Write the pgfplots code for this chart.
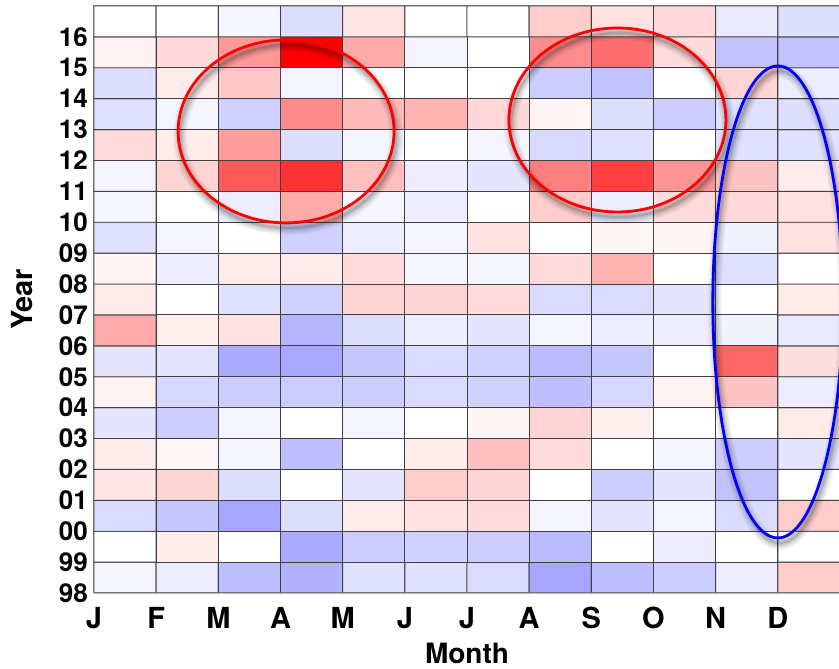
\documentclass[border=0pt]{standalone}
\usepackage{fontspec}
\setmainfont{TeX Gyre Heros}
\usepackage{pgfplots}
\pgfplotsset{compat=1.18}

\begin{document}
\begin{tikzpicture}
\useasboundingbox (0,0) rectangle (839pt,669pt);
\begin{axis}[
  at={(94pt,76pt)}, anchor=south west,
  scale only axis, width=746pt, height=587pt,
  xmin=0, xmax=12, ymin=0, ymax=19,
  clip=false, axis on top,
  colormap={bwr}{rgb255=(0,0,255) rgb255=(255,255,255) rgb255=(255,0,0)},
  point meta min=-1, point meta max=1,
  xtick={0,...,11},
  xticklabels={J,F,M,A,M,J,J,A,S,O,N,D},
  ytick={0,...,18},
  yticklabels={98,99,00,01,02,03,04,05,06,07,08,09,10,11,12,13,14,15,16},
  major tick length=0pt,
  xticklabel style={font=\bfseries\fontsize{29}{29}\selectfont, inner sep=0pt, yshift=-14pt},
  yticklabel style={font=\bfseries\fontsize{26}{26}\selectfont, inner ysep=0pt, inner xsep=6pt},
  xlabel={Month}, ylabel={Year},
  xlabel style={font=\bfseries\fontsize{28}{28}\selectfont, at={(axis description cs:0.5,-0.1025)}, anchor=center},
  ylabel style={font=\bfseries\fontsize{29}{29}\selectfont, at={(axis description cs:-0.0965,0.5)}, anchor=center},
  axis line style={black!55, line width=1pt},
]
% monthly anomalies, one line per year (98 at the bottom, 16 at the top)
\addplot[matrix plot*, mesh/cols=12, point meta=explicit, draw=black!75, line width=0.9pt] coordinates {
(0.5,0.5)[-0.04] (1.5,0.5)[-0.07] (2.5,0.5)[-0.25] (3.5,0.5)[-0.30] (4.5,0.5)[-0.12] (5.5,0.5)[-0.12] (6.5,0.5)[-0.14] (7.5,0.5)[-0.35] (8.5,0.5)[-0.25] (9.5,0.5)[-0.20] (10.5,0.5)[-0.07] (11.5,0.5)[0.20]
(0.5,1.5)[0] (1.5,1.5)[0.07] (2.5,1.5)[0] (3.5,1.5)[-0.33] (4.5,1.5)[-0.20] (5.5,1.5)[-0.18] (6.5,1.5)[-0.20] (7.5,1.5)[-0.27] (8.5,1.5)[0] (9.5,1.5)[-0.07] (10.5,1.5)[0] (11.5,1.5)[0]
(0.5,2.5)[-0.14] (1.5,2.5)[-0.22] (2.5,2.5)[-0.35] (3.5,2.5)[-0.13] (4.5,2.5)[0.08] (5.5,2.5)[0.11] (6.5,2.5)[0.14] (7.5,2.5)[-0.04] (8.5,2.5)[-0.10] (9.5,2.5)[-0.04] (10.5,2.5)[-0.14] (11.5,2.5)[0.20]
(0.5,3.5)[0.10] (1.5,3.5)[0.17] (2.5,3.5)[-0.13] (3.5,3.5)[0] (4.5,3.5)[-0.10] (5.5,3.5)[0.20] (6.5,3.5)[0.17] (7.5,3.5)[0] (8.5,3.5)[-0.20] (9.5,3.5)[-0.10] (10.5,3.5)[-0.24] (11.5,3.5)[0]
(0.5,4.5)[0.07] (1.5,4.5)[0.03] (2.5,4.5)[-0.04] (3.5,4.5)[-0.25] (4.5,4.5)[0] (5.5,4.5)[0.08] (6.5,4.5)[0.25] (7.5,4.5)[0.14] (8.5,4.5)[0] (9.5,4.5)[-0.04] (10.5,4.5)[-0.20] (11.5,4.5)[-0.10]
(0.5,5.5)[-0.10] (1.5,5.5)[-0.20] (2.5,5.5)[-0.04] (3.5,5.5)[0] (4.5,5.5)[-0.04] (5.5,5.5)[0] (6.5,5.5)[0.04] (7.5,5.5)[0.17] (8.5,5.5)[0.06] (9.5,5.5)[0] (10.5,5.5)[0] (11.5,5.5)[0.08]
(0.5,6.5)[0.05] (1.5,6.5)[-0.16] (2.5,6.5)[-0.20] (3.5,6.5)[-0.20] (4.5,6.5)[-0.20] (5.5,6.5)[-0.14] (6.5,6.5)[-0.18] (7.5,6.5)[-0.25] (8.5,6.5)[-0.16] (9.5,6.5)[0.05] (10.5,6.5)[0.24] (11.5,6.5)[-0.07]
(0.5,7.5)[-0.10] (1.5,7.5)[-0.10] (2.5,7.5)[-0.33] (3.5,7.5)[-0.34] (4.5,7.5)[-0.22] (5.5,7.5)[-0.14] (6.5,7.5)[-0.18] (7.5,7.5)[-0.27] (8.5,7.5)[-0.22] (9.5,7.5)[0] (10.5,7.5)[0.60] (11.5,7.5)[0.13]
(0.5,8.5)[0.33] (1.5,8.5)[0.06] (2.5,8.5)[0.12] (3.5,8.5)[-0.29] (4.5,8.5)[-0.13] (5.5,8.5)[-0.07] (6.5,8.5)[-0.10] (7.5,8.5)[-0.04] (8.5,8.5)[-0.07] (9.5,8.5)[-0.07] (10.5,8.5)[-0.05] (11.5,8.5)[-0.08]
(0.5,9.5)[0.08] (1.5,9.5)[0] (2.5,9.5)[-0.12] (3.5,9.5)[-0.18] (4.5,9.5)[0.17] (5.5,9.5)[0.17] (6.5,9.5)[0.14] (7.5,9.5)[-0.14] (8.5,9.5)[-0.14] (9.5,9.5)[-0.10] (10.5,9.5)[0] (11.5,9.5)[0.08]
(0.5,10.5)[0.04] (1.5,10.5)[-0.07] (2.5,10.5)[0.08] (3.5,10.5)[0.08] (4.5,10.5)[0.14] (5.5,10.5)[-0.04] (6.5,10.5)[-0.04] (7.5,10.5)[0.14] (8.5,10.5)[0.30] (9.5,10.5)[0] (10.5,10.5)[-0.12] (11.5,10.5)[0]
(0.5,11.5)[-0.12] (1.5,11.5)[-0.04] (2.5,11.5)[0] (3.5,11.5)[-0.18] (4.5,11.5)[-0.07] (5.5,11.5)[-0.04] (6.5,11.5)[0.12] (7.5,11.5)[0] (8.5,11.5)[0.04] (9.5,11.5)[0.04] (10.5,11.5)[-0.05] (11.5,11.5)[0.12]
(0.5,12.5)[-0.04] (1.5,12.5)[0] (2.5,12.5)[-0.07] (3.5,12.5)[0.33] (4.5,12.5)[-0.04] (5.5,12.5)[-0.07] (6.5,12.5)[0] (7.5,12.5)[0.20] (8.5,12.5)[-0.07] (9.5,12.5)[0.14] (10.5,12.5)[0.15] (11.5,12.5)[0.12]
(0.5,13.5)[-0.04] (1.5,13.5)[0.17] (2.5,13.5)[0.65] (3.5,13.5)[0.80] (4.5,13.5)[0.25] (5.5,13.5)[-0.07] (6.5,13.5)[-0.10] (7.5,13.5)[0.50] (8.5,13.5)[0.75] (9.5,13.5)[0.42] (10.5,13.5)[0.24] (11.5,13.5)[0.08]
(0.5,14.5)[0.14] (1.5,14.5)[0.07] (2.5,14.5)[0.39] (3.5,14.5)[-0.13] (4.5,14.5)[-0.04] (5.5,14.5)[0] (6.5,14.5)[-0.04] (7.5,14.5)[-0.15] (8.5,14.5)[-0.12] (9.5,14.5)[0] (10.5,14.5)[-0.12] (11.5,14.5)[-0.12]
(0.5,15.5)[-0.12] (1.5,15.5)[-0.04] (2.5,15.5)[-0.18] (3.5,15.5)[0.45] (4.5,15.5)[0.27] (5.5,15.5)[0.30] (6.5,15.5)[0.15] (7.5,15.5)[0.04] (8.5,15.5)[-0.13] (9.5,15.5)[-0.20] (10.5,15.5)[-0.12] (11.5,15.5)[-0.13]
(0.5,16.5)[-0.13] (1.5,16.5)[0.08] (2.5,16.5)[0.22] (3.5,16.5)[-0.04] (4.5,16.5)[0] (5.5,16.5)[0] (6.5,16.5)[0] (7.5,16.5)[-0.20] (8.5,16.5)[-0.24] (9.5,16.5)[0] (10.5,16.5)[0.17] (11.5,16.5)[-0.07]
(0.5,17.5)[0.05] (1.5,17.5)[0.15] (2.5,17.5)[0.40] (3.5,17.5)[1.00] (4.5,17.5)[0.33] (5.5,17.5)[-0.04] (6.5,17.5)[0] (7.5,17.5)[0.45] (8.5,17.5)[0.57] (9.5,17.5)[0.14] (10.5,17.5)[-0.24] (11.5,17.5)[-0.24]
(0.5,18.5)[0] (1.5,18.5)[0] (2.5,18.5)[-0.04] (3.5,18.5)[-0.13] (4.5,18.5)[0.10] (5.5,18.5)[0] (6.5,18.5)[0] (7.5,18.5)[0.20] (8.5,18.5)[0.12] (9.5,18.5)[0.15] (10.5,18.5)[-0.08] (11.5,18.5)[-0.13]
};
% centres of the highlighted groups
\coordinate (springA) at (axis cs:3.09,14.94);
\coordinate (autumnA) at (axis cs:8.42,15.31);
\coordinate (decB) at (axis cs:11.0,9.42);
\end{axis}

% highlight rings with a soft drop shadow
\foreach \c/\rx/\ry/\col in {springA/108/91.5/red, autumnA/108.5/92/red, decB/65/236/blue}{
  \foreach \w/\o in {14/0.04, 11/0.05, 8/0.06, 5/0.08, 2.5/0.1}{
    \draw[black, opacity=\o, line width=\w pt] ([xshift=2pt,yshift=-5pt]\c) ellipse [x radius=\rx pt, y radius=\ry pt];
  }
  \draw[\col, line width=2.8pt] (\c) ellipse [x radius=\rx pt, y radius=\ry pt];
}
\end{tikzpicture}
\end{document}
